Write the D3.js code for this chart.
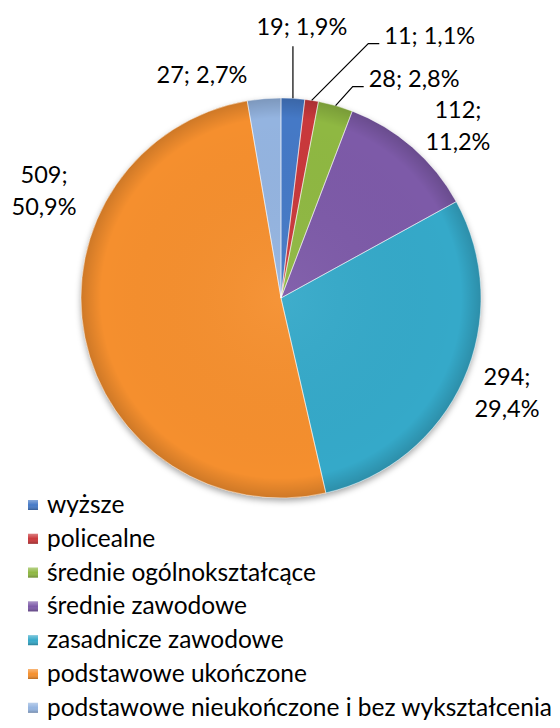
<!DOCTYPE html>
<html>
<head>
<meta charset="utf-8">
<script src="https://cdn.jsdelivr.net/npm/d3@7.9.0/dist/d3.min.js"></script>
<style>
  html, body { margin: 0; padding: 0; background: #fff; }
  svg text { font-family: Lato, "Open Sans", sans-serif; fill: #000; }
</style>
</head>
<body>
<svg id="chart" width="560" height="728"></svg>
<script>
// data
const categories = [
  'wyższe',
  'policealne',
  'średnie ogólnokształcące',
  'średnie zawodowe',
  'zasadnicze zawodowe',
  'podstawowe ukończone',
  'podstawowe nieukończone i bez wykształcenia'
];
const counts = [19, 11, 28, 112, 294, 509, 27];
const percents = ['1,9%', '1,1%', '2,8%', '11,2%', '29,4%', '50,9%', '2,7%'];
const colorList = ['#4579c6', '#c9373a', '#8fb843', '#7d5aa8', '#36a9c9', '#f58f2d', '#94b4e0'];

// label placement (polar: degrees from top, radius as share of pie radius)
const labelSpots = [
  { ang: 4.4,   rad: 1.36,  lines: 1, leader: 'straight' },
  { ang: 29.5,  rad: 1.51,  lines: 1, leader: 'elbow' },
  { ang: 31.2,  rad: 1.285, lines: 1, leader: 'elbow' },
  { ang: 45.8,  rad: 1.234, lines: 2, leader: null },
  { ang: 112.6, rad: 1.224, lines: 2, leader: null },
  { ang: 294.5, rad: 1.302, lines: 2, leader: null },
  { ang: 340.5, rad: 1.183, lines: 1, leader: null }
];

const data = categories.map((c, i) => ({ label: c, value: counts[i], pct: percents[i] }));

const svg = d3.select('#chart');
const cx = 281, cy = 298, R = 200;
const fontSize = 23.5, legendFont = 24.5, lineGap = 32, capH = 17;

const color = d3.scaleOrdinal().domain(categories).range(colorList);

const defs = svg.append('defs');
const shadow = defs.append('filter').attr('id', 'shadow')
  .attr('x', '-20%').attr('y', '-20%').attr('width', '140%').attr('height', '140%');
shadow.append('feDropShadow')
  .attr('dx', 0).attr('dy', 3).attr('stdDeviation', 3)
  .attr('flood-color', '#000').attr('flood-opacity', 0.35);

// radial shade, centred on the pie (path coordinates are pie-centred)
const shade = defs.append('radialGradient').attr('id', 'shade')
  .attr('gradientUnits', 'userSpaceOnUse')
  .attr('cx', 0).attr('cy', 0).attr('r', R);
shade.append('stop').attr('offset', '0%').attr('stop-color', '#fff').attr('stop-opacity', 0.05);
shade.append('stop').attr('offset', '90%').attr('stop-color', '#000').attr('stop-opacity', 0.0);
shade.append('stop').attr('offset', '100%').attr('stop-color', '#000').attr('stop-opacity', 0.16);

const boxShade = defs.append('linearGradient').attr('id', 'boxShade')
  .attr('x1', 0).attr('y1', 0).attr('x2', 0).attr('y2', 1);
boxShade.append('stop').attr('offset', '0%').attr('stop-color', '#fff').attr('stop-opacity', 0.35);
boxShade.append('stop').attr('offset', '50%').attr('stop-color', '#fff').attr('stop-opacity', 0);
boxShade.append('stop').attr('offset', '100%').attr('stop-color', '#000').attr('stop-opacity', 0.25);

const pie = d3.pie().value(d => d.value).sort(null);
const arc = d3.arc().innerRadius(0).outerRadius(R);
const arcs = pie(data);

const g = svg.append('g').attr('transform', `translate(${cx},${cy})`);

const slices = g.append('g').attr('filter', 'url(#shadow)');
slices.selectAll('path.slice')
  .data(arcs)
  .enter()
  .append('path')
  .attr('class', 'slice')
  .attr('d', arc)
  .attr('fill', d => color(d.data.label));

// bevel-ish shading over the slices
g.append('g').selectAll('path')
  .data(arcs)
  .enter()
  .append('path')
  .attr('d', arc)
  .attr('fill', 'url(#shade)')
  .attr('stroke', 'rgba(255,255,255,0.45)')
  .attr('stroke-width', 1);

// labels
const polar = (angDeg, r) => {
  const a = angDeg * Math.PI / 180;
  return [Math.sin(a) * r, -Math.cos(a) * r];
};

const labelG = g.append('g');
arcs.forEach((d, i) => {
  const spot = labelSpots[i];
  const [lx, ly] = polar(spot.ang, R * spot.rad);
  const h = (spot.lines - 1) * lineGap + capH;
  const top = ly - h / 2;
  const lines = spot.lines === 1
    ? [`${d.data.value}; ${d.data.pct}`]
    : [`${d.data.value};`, d.data.pct];
  const t = labelG.append('text')
    .attr('text-anchor', 'middle')
    .style('font-size', fontSize + 'px');
  lines.forEach((s, k) => {
    t.append('tspan').attr('x', lx).attr('y', top + capH + k * lineGap).text(s);
  });

  if (spot.leader) {
    const mid = (d.startAngle + d.endAngle) / 2;
    const px = Math.sin(mid) * R, py = -Math.cos(mid) * R;
    const bb = t.node().getBBox();
    const base = top + capH;
    let pts;
    if (spot.leader === 'straight') {
      pts = [[px, py], [px, base + 11]];
    } else {
      pts = [[px, py], [bb.x - 16, base], [bb.x - 5, base]];
    }
    labelG.append('path')
      .attr('d', d3.line()(pts))
      .attr('fill', 'none')
      .attr('stroke', '#000')
      .attr('stroke-width', 1.2);
  }
});

// legend
const legend = svg.append('g').attr('transform', 'translate(28,505)');
const rowH = 33.8;
const rows = legend.selectAll('g')
  .data(data)
  .enter()
  .append('g')
  .attr('transform', (d, i) => `translate(0,${i * rowH})`);
rows.append('rect')
  .attr('x', 0).attr('y', -5).attr('width', 10).attr('height', 10)
  .attr('fill', d => color(d.label));
rows.append('rect')
  .attr('x', 0).attr('y', -5).attr('width', 10).attr('height', 10)
  .attr('fill', 'url(#boxShade)');
rows.append('text')
  .attr('x', 19)
  .attr('y', 8)
  .style('font-size', legendFont + 'px')
  .text(d => d.label);
</script>
</body>
</html>
